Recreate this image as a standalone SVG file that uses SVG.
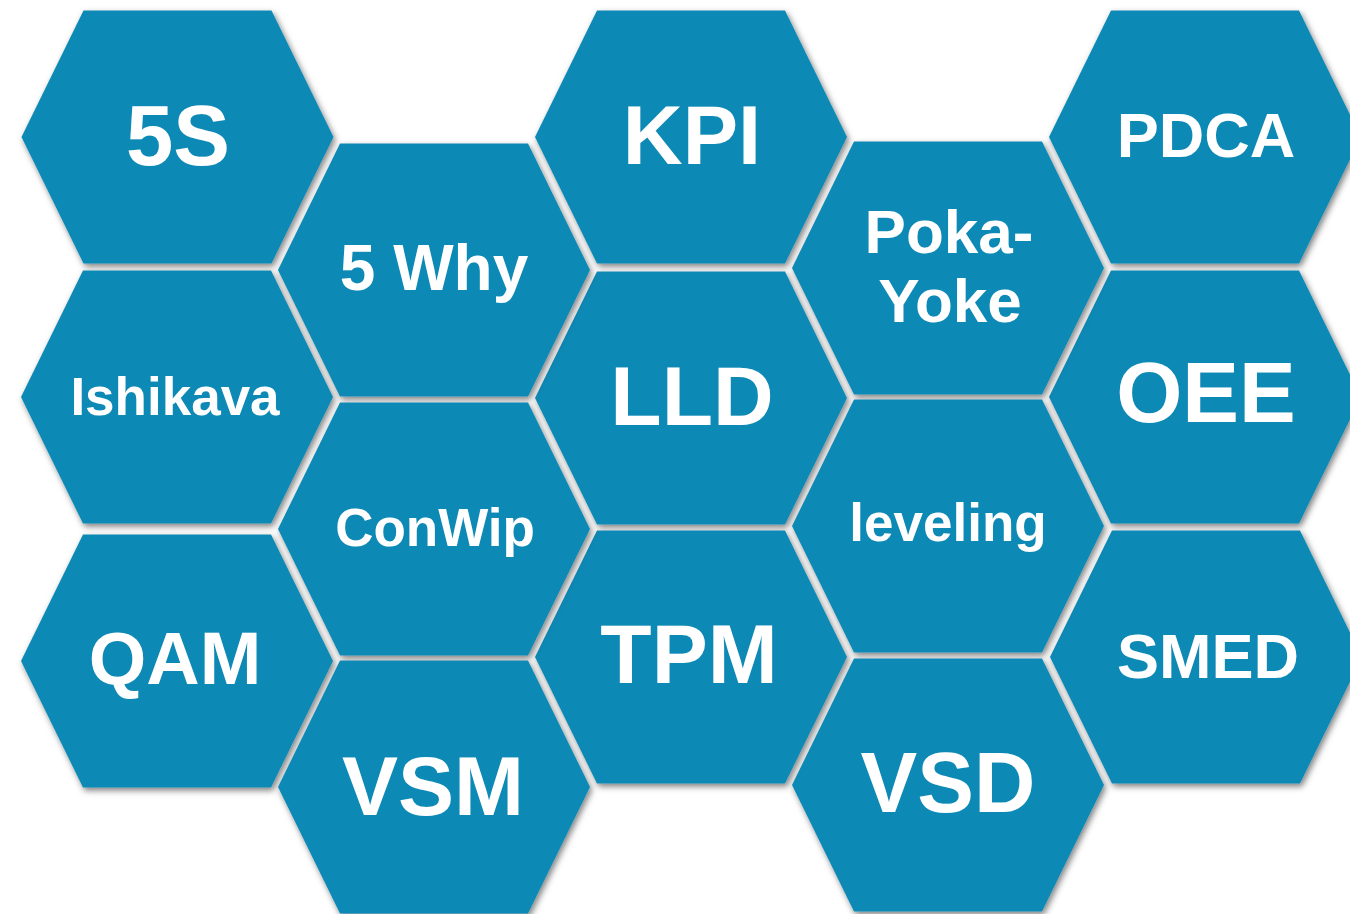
<svg xmlns="http://www.w3.org/2000/svg" width="1350" height="914" viewBox="0 0 1350 914">
<defs>
<filter id="sh" x="-10%" y="-10%" width="125%" height="125%">
<feDropShadow dx="2" dy="3" stdDeviation="3" flood-color="#000" flood-opacity="0.5"/>
</filter>
<polygon id="hex" points="-156,0 -94,-126.5 94,-126.5 156,0 94,126.5 -94,126.5"/>
</defs>
<style>
.h{fill:#0E89B5;filter:url(#sh);}
.t{font-family:"Liberation Sans",Arial,sans-serif;font-weight:bold;fill:#fff;text-anchor:middle;}
</style>
<rect width="1350" height="914" fill="#fff"/>
<g id="n-5s"><use href="#hex" class="h" x="177.5" y="137"/><text class="t" x="178" y="165" font-size="85">5S</text></g>
<g id="n-kpi"><use href="#hex" class="h" x="691" y="137"/><text class="t" x="692" y="164" font-size="83">KPI</text></g>
<g id="n-pdca"><use href="#hex" class="h" x="1205" y="137"/><text class="t" x="1206" y="157" font-size="63">PDCA</text></g>
<g id="n-ishikava"><use href="#hex" class="h" x="177" y="397"/><text class="t" x="175" y="415" font-size="53">Ishikava</text></g>
<g id="n-lld"><use href="#hex" class="h" x="691" y="398"/><text class="t" x="692" y="425" font-size="84">LLD</text></g>
<g id="n-oee"><use href="#hex" class="h" x="1205" y="397"/><text class="t" x="1206" y="422" font-size="85">OEE</text></g>
<g id="n-qam"><use href="#hex" class="h" x="177" y="661"/><text class="t" x="175" y="684" font-size="74">QAM</text></g>
<g id="n-tpm"><use href="#hex" class="h" x="691" y="657"/><text class="t" x="689" y="683" font-size="84">TPM</text></g>
<g id="n-smed"><use href="#hex" class="h" x="1206" y="657"/><text class="t" x="1208" y="678" font-size="63">SMED</text></g>
<g id="n-5why"><use href="#hex" class="h" x="434" y="270"/><text class="t" x="434" y="290" font-size="64">5 Why</text></g>
<g id="n-pokayoke"><use href="#hex" class="h" x="948" y="268"/><text class="t" x="949" y="253" font-size="62">Poka-</text><text class="t" x="950" y="322" font-size="62">Yoke</text></g>
<g id="n-conwip"><use href="#hex" class="h" x="434" y="529"/><text class="t" x="435" y="546" font-size="53">ConWip</text></g>
<g id="n-leveling"><use href="#hex" class="h" x="948" y="526"/><text class="t" x="948" y="541" font-size="53">leveling</text></g>
<g id="n-vsm"><use href="#hex" class="h" x="434" y="787"/><text class="t" x="433" y="815" font-size="84">VSM</text></g>
<g id="n-vsd"><use href="#hex" class="h" x="948" y="785"/><text class="t" x="948" y="812" font-size="85">VSD</text></g>
<g id="connectors"></g>
</svg>
